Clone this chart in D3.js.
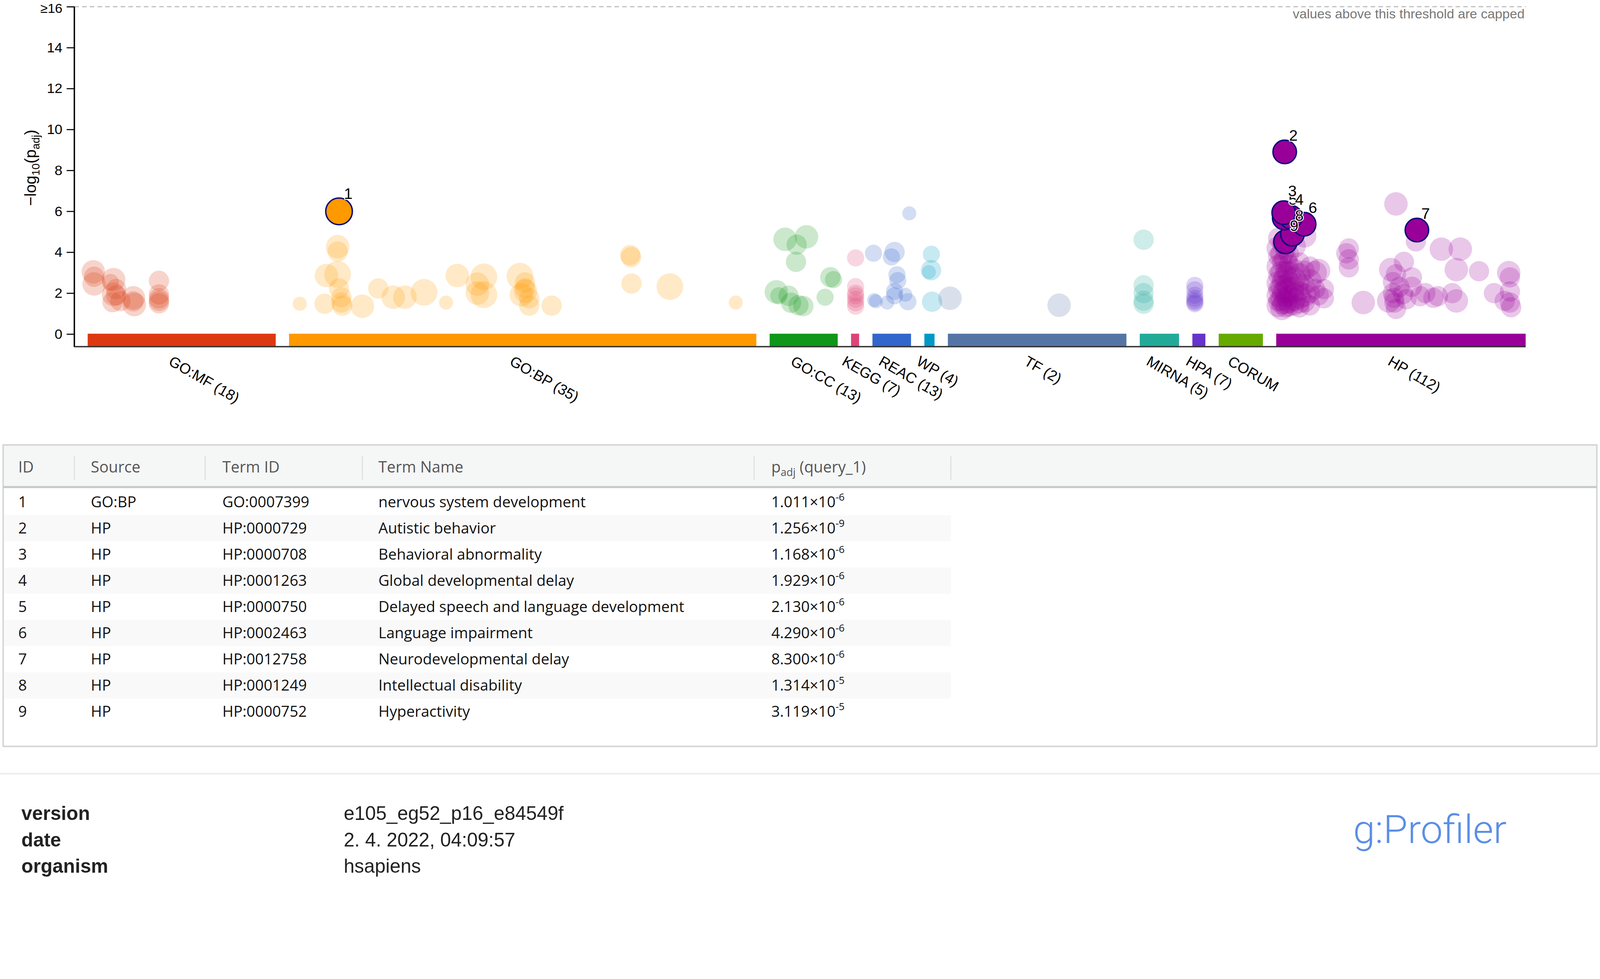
<!DOCTYPE html>
<html>
<head>
<meta charset="utf-8">
<script src="https://cdn.jsdelivr.net/npm/d3@7"></script>
<style>
html, body { margin: 0; padding: 0; background: #fff; width: 100%; height: 100%; overflow: hidden; }
svg { display: block; width: 100vw; height: 100vh; }
</style>
</head>
<body>
<svg id="chart" viewBox="0 0 4562 2505" preserveAspectRatio="xMinYMin meet"></svg>
<script>
var sources = ["GO:MF", "GO:BP", "GO:CC", "KEGG", "REAC", "WP", "TF", "MIRNA", "HPA", "CORUM", "HP"];
var sourceCounts = [18, 35, 13, 7, 13, 4, 2, 5, 7, null, 112];
// relative width of each source on the x axis (size of its term database)
var sourceSpans = [536, 1332, 194, 23, 110, 29, 509, 112, 37, 126, 711];
var sourceColors = ["#dc3912", "#ff9900", "#109618", "#dd4477", "#3366cc", "#0099c6",
	"#5574a6", "#22aa99", "#6633cc", "#66aa00", "#990099"];

var yTicks = [0, 2, 4, 6, 8, 10, 12, 14, 16];

// [position inside the source (0-100), -log10(p_adj), term size class 1-5]
var goMF = [
	[3.0, 3.04, 4], [3.4, 2.45, 4], [3.4, 2.8, 3], [12.1, 2.52, 2], [13.8, 2.66, 4], [13.8, 1.94, 4],
	[15.1, 1.89, 3], [15.1, 2.2, 3], [17.4, 1.61, 3], [13.2, 1.56, 3], [24.3, 1.77, 4], [24.8, 1.44, 4],
	[24.3, 1.6, 3], [37.9, 2.6, 3], [37.9, 1.94, 3], [37.9, 1.5, 3], [37.9, 1.62, 3], [37.9, 1.75, 3]
];
var goBP = [
	[10.4, 4.27, 4], [10.4, 4.03, 3], [8.0, 2.86, 4], [10.4, 2.92, 5], [10.7, 2.23, 3], [2.3, 1.48, 1],
	[7.6, 1.48, 3], [11.2, 1.8, 3], [11.2, 1.54, 3], [11.4, 1.39, 3], [15.7, 1.36, 4], [19.1, 2.23, 3],
	[22.3, 1.8, 4], [24.8, 1.8, 4], [28.9, 2.04, 5], [33.6, 1.54, 1], [36.0, 2.86, 4], [40.3, 2.44, 4],
	[41.7, 2.8, 5], [41.7, 1.92, 5], [40.3, 2.0, 4], [49.4, 2.83, 5], [50.5, 2.52, 3], [50.5, 2.23, 3],
	[50.6, 2.1, 4], [49.7, 1.92, 4], [51.4, 1.75, 3], [51.4, 1.39, 3], [56.2, 1.39, 3], [73.0, 3.86, 3],
	[73.2, 3.76, 3], [73.3, 2.47, 3], [81.5, 2.32, 5], [95.6, 1.54, 1]
];
var goCC = [
	[22.7, 4.63, 4], [54.1, 4.75, 4], [39.7, 4.37, 3], [38.7, 3.53, 3], [9.8, 2.06, 4], [13.4, 1.87, 2],
	[27.8, 1.87, 3], [31.4, 1.53, 3], [42.3, 1.41, 3], [49.5, 1.37, 3], [89.2, 2.78, 3], [93.8, 2.66, 2],
	[81.4, 1.8, 2]
];
var kegg = [
	[56.5, 3.72, 2], [56.5, 2.32, 2], [56.5, 2.0, 2], [56.5, 1.87, 2], [56.5, 1.7, 2], [56.5, 1.53, 2], [56.5, 1.36, 2]
];
var reac = [
	[2.7, 3.95, 2], [57.3, 4.01, 3], [49.1, 3.77, 2], [95.5, 5.9, 1], [63.6, 2.9, 2], [65.5, 2.61, 2],
	[57.3, 2.09, 2], [57.3, 1.87, 2], [85.5, 1.92, 1], [4.5, 1.66, 1], [38.2, 1.54, 1], [91.8, 1.58, 2],
	[9.1, 1.6, 1]
];
var wp = [[69.0, 3.9, 2], [65.5, 3.12, 3], [44.8, 3.03, 1], [75.9, 1.58, 3]];
var tf = [[1.2, 1.75, 4], [62.3, 1.41, 4]];
var mirna = [[9.8, 4.61, 3], [9.8, 2.38, 3], [9.8, 2.0, 3], [9.8, 1.63, 3], [9.8, 1.48, 3]];
var hpa = [[18.9, 2.38, 2], [18.9, 2.16, 2], [18.9, 1.9, 2], [18.9, 1.75, 2], [18.9, 1.63, 2], [18.9, 1.55, 2], [18.9, 1.48, 2]];
var corum = [];
var hp = [
	[0.8, 4.7, 3], [0.8, 4.2, 4], [0.8, 3.8, 3], [0.8, 3.3, 4], [0.8, 2.9, 3], [0.8, 2.5, 4], [0.8, 2.2, 3],
	[0.8, 1.9, 4], [0.8, 1.6, 3], [0.8, 1.4, 4],
	[2.3, 4.4, 3], [2.3, 3.9, 4], [2.3, 3.5, 3], [2.3, 3.0, 4], [2.3, 2.6, 3], [2.3, 2.3, 4], [2.3, 2.0, 3],
	[2.3, 1.7, 4], [2.3, 1.45, 3], [2.3, 1.25, 4],
	[3.7, 4.1, 3], [3.7, 3.6, 4], [3.7, 3.1, 3], [3.7, 2.8, 4], [3.7, 2.4, 3], [3.7, 2.1, 4], [3.7, 1.8, 3],
	[3.7, 1.55, 4], [3.7, 1.3, 3],
	[5.1, 3.9, 3], [5.1, 3.4, 3], [5.1, 3.0, 4], [5.1, 2.6, 3], [5.1, 2.2, 4], [5.1, 1.9, 3], [5.1, 1.6, 4], [5.1, 1.35, 3],
	[7.2, 4.3, 4], [7.2, 3.2, 3], [7.2, 2.7, 4], [7.2, 2.3, 3], [7.2, 2.0, 3], [7.2, 1.7, 4], [7.2, 1.4, 3],
	[9.3, 3.5, 3], [9.3, 2.9, 4], [9.3, 2.5, 3], [9.3, 2.1, 3], [9.3, 1.8, 4], [9.3, 1.5, 3], [9.3, 1.3, 3],
	[11.4, 4.8, 4], [11.4, 3.1, 3], [11.4, 2.4, 3], [11.4, 1.9, 4], [11.4, 1.55, 3],
	[13.5, 3.3, 3], [13.5, 2.6, 4], [13.5, 2.0, 3], [13.5, 1.4, 3],
	[15.6, 3.0, 4], [15.6, 2.2, 3], [17.0, 3.1, 4], [17.0, 1.9, 3], [19.1, 2.2, 3], [19.1, 1.75, 3],
	[29.1, 4.18, 3], [28.1, 3.95, 3], [29.1, 3.65, 3], [29.1, 3.26, 3], [34.9, 1.54, 4], [48.0, 6.36, 4],
	[51.2, 3.53, 3], [56.0, 4.53, 3], [48.0, 2.92, 3], [45.9, 3.15, 4], [46.8, 2.54, 3], [46.8, 2.0, 3],
	[47.3, 1.77, 3], [47.4, 1.54, 3], [48.0, 1.23, 3], [45.1, 1.62, 4], [54.4, 2.77, 3], [54.4, 2.31, 3],
	[57.7, 1.85, 3], [59.8, 2.0, 3], [63.0, 1.77, 3], [66.2, 4.15, 4], [73.8, 4.15, 4], [72.2, 3.15, 4],
	[72.2, 1.62, 4], [70.6, 2.0, 3], [81.3, 3.07, 3], [87.3, 2.0, 3], [93.2, 3.0, 4], [93.7, 2.77, 3],
	[93.7, 2.08, 3], [93.7, 1.54, 3], [91.6, 1.62, 3], [94.2, 1.31, 3], [49.4, 2.3, 3], [50.8, 1.95, 3],
	[52.2, 1.7, 3], [64.8, 1.85, 3]
];
var sourcePoints = [goMF, goBP, goCC, kegg, reac, wp, tf, mirna, hpa, corum, hp];

// highlighted terms, listed in the table
var highlights = [
	{id: 1, source: "GO:BP", termId: "GO:0007399", name: "nervous system development", padj: 1.011e-6, pos: 10.7, size: 5},
	{id: 2, source: "HP", termId: "HP:0000729", name: "Autistic behavior", padj: 1.256e-9, pos: 3.4, size: 4},
	{id: 3, source: "HP", termId: "HP:0000708", name: "Behavioral abnormality", padj: 1.168e-6, pos: 3.0, size: 4},
	{id: 4, source: "HP", termId: "HP:0001263", name: "Global developmental delay", padj: 1.929e-6, pos: 5.8, size: 4},
	{id: 5, source: "HP", termId: "HP:0000750", name: "Delayed speech and language development", padj: 2.130e-6, pos: 3.2, size: 4},
	{id: 6, source: "HP", termId: "HP:0002463", name: "Language impairment", padj: 4.290e-6, pos: 11.2, size: 4},
	{id: 7, source: "HP", termId: "HP:0012758", name: "Neurodevelopmental delay", padj: 8.300e-6, pos: 56.4, size: 4},
	{id: 8, source: "HP", termId: "HP:0001249", name: "Intellectual disability", padj: 1.314e-5, pos: 6.5, size: 4},
	{id: 9, source: "HP", termId: "HP:0000752", name: "Hyperactivity", padj: 3.119e-5, pos: 3.7, size: 4}
];

var tableColumns = ["ID", "Source", "Term ID", "Term Name", "p_adj (query_1)"];
var footerKeys = ["version", "date", "organism"];
var footerValues = ["e105_eg52_p16_e84549f", "2. 4. 2022, 04:09:57", "hsapiens"];

var svg = d3.select("#chart");
var chartFont = "'Liberation Sans', Arial, sans-serif";
var tableFont = "'Open Sans', 'Noto Sans', sans-serif";

// x layout: each source gets its span, separated by a fixed gap
var gap = 38;
var offsets = [];
var acc = gap;
sourceSpans.forEach(function(s) {
	offsets.push(acc);
	acc += s + gap;
});
var total = acc - gap;

var x = d3.scaleLinear().domain([0, total]).range([212, 4350]);
var y = d3.scaleLinear().domain([0, 16]).range([952, 19]);
var r = d3.scaleLinear().domain([1, 5]).range([20, 38]);

var sourcePos = function(si, pos) {
	return x(offsets[si] + pos / 100 * sourceSpans[si]);
};

var plot = svg.append("g").attr("font-family", chartFont);

// threshold line
plot.append("line")
	.attr("x1", x(0)).attr("x2", x(total))
	.attr("y1", y(16)).attr("y2", y(16))
	.attr("stroke", "#bbb").attr("stroke-width", 3)
	.attr("stroke-dasharray", "13,9");
plot.append("text")
	.attr("x", x(total) - 3).attr("y", 52)
	.attr("text-anchor", "end")
	.attr("font-size", 38)
	.attr("fill", "#777")
	.text("values above this threshold are capped");

// y axis
var yAxis = d3.axisLeft(y)
	.tickValues(yTicks)
	.tickSize(22)
	.tickPadding(12)
	.tickFormat(function(d) { return d === 16 ? "≥16" : d; });
var yg = plot.append("g").attr("transform", "translate(" + x(0) + ",0)").call(yAxis);
yg.select(".domain").remove();
yg.selectAll(".tick line").attr("stroke", "#000").attr("stroke-width", 3);
yg.selectAll(".tick text").attr("font-size", 40).attr("font-family", chartFont).attr("fill", "#000");
// keep the capped top label inside the page
yg.selectAll(".tick text").filter(function(d) { return d === 16; })
	.attr("font-size", 38)
	.attr("dy", "0.45em");
plot.append("line")
	.attr("x1", x(0)).attr("x2", x(0))
	.attr("y1", y(16)).attr("y2", 989)
	.attr("stroke", "#000").attr("stroke-width", 4);

var ylab = plot.append("text")
	.attr("transform", "translate(102,478) rotate(-90)")
	.attr("text-anchor", "middle")
	.attr("font-size", 45)
	.attr("fill", "#000");
ylab.append("tspan").text("−log");
ylab.append("tspan").attr("font-size", 31).attr("dy", 10).text("10");
ylab.append("tspan").attr("dy", -10).text("(p");
ylab.append("tspan").attr("font-size", 31).attr("dy", 10).text("adj");
ylab.append("tspan").attr("dy", -10).text(")");

// source bars
plot.selectAll("rect.source")
	.data(sources)
	.enter().append("rect")
	.attr("class", "source")
	.attr("x", function(d, i) { return x(offsets[i]); })
	.attr("width", function(d, i) { return x(offsets[i] + sourceSpans[i]) - x(offsets[i]); })
	.attr("y", 951)
	.attr("height", 36)
	.attr("fill", function(d, i) { return sourceColors[i]; });

plot.append("line")
	.attr("x1", x(0)).attr("x2", x(total))
	.attr("y1", 988).attr("y2", 988)
	.attr("stroke", "#333").attr("stroke-width", 4);

plot.selectAll("text.source-label")
	.data(sources)
	.enter().append("text")
	.attr("class", "source-label")
	.attr("transform", function(d, i) {
		var cx = x(offsets[i] + sourceSpans[i] / 2) - 40;
		return "translate(" + cx + ",1038) rotate(30)";
	})
	.attr("font-size", 42)
	.attr("fill", "#000")
	.text(function(d, i) {
		return sourceCounts[i] === null ? d : d + " (" + sourceCounts[i] + ")";
	});

// faded circles
var points = [];
sourcePoints.forEach(function(list, si) {
	list.forEach(function(p) {
		points.push({si: si, pos: p[0], value: p[1], size: p[2]});
	});
});

plot.append("g").selectAll("circle")
	.data(points)
	.enter().append("circle")
	.attr("cx", function(d) { return sourcePos(d.si, d.pos); })
	.attr("cy", function(d) { return y(d.value); })
	.attr("r", function(d) { return r(d.size); })
	.attr("fill", function(d) { return sourceColors[d.si]; })
	.attr("fill-opacity", 0.22);

// highlighted circles
highlights.forEach(function(h) {
	h.si = sources.indexOf(h.source);
	h.value = -Math.log10(h.padj);
	h.cx = sourcePos(h.si, h.pos);
	h.cy = y(Math.min(h.value, 16));
	h.r = r(h.size);
});

// labels that would collide get pushed apart
var labelNudge = {3: [0, -15], 5: [0, -6], 4: [0, -4], 8: [-5, -7]};

var hl = plot.append("g");
hl.selectAll("circle")
	.data(highlights.slice().reverse())
	.enter().append("circle")
	.attr("cx", function(d) { return d.cx; })
	.attr("cy", function(d) { return d.cy; })
	.attr("r", function(d) { return d.r; })
	.attr("fill", function(d) { return sourceColors[d.si]; })
	.attr("stroke", "#0b0b7a")
	.attr("stroke-width", 4);

hl.selectAll("text")
	.data(highlights.slice().reverse())
	.enter().append("text")
	.attr("x", function(d) { return d.cx + d.r * 0.37 + (labelNudge[d.id] ? labelNudge[d.id][0] : 0); })
	.attr("y", function(d) { return d.cy - d.r + 2 + (labelNudge[d.id] ? labelNudge[d.id][1] : 0); })
	.attr("font-size", 44)
	.attr("fill", "#000")
	.attr("stroke", "#fff")
	.attr("stroke-width", 5)
	.attr("paint-order", "stroke")
	.text(function(d) { return d.id; });

// table
var table = svg.append("g").attr("font-family", tableFont);
var colX = [52, 259, 634, 1079, 2199];
var sepX = [212, 585, 1033, 2150, 2711];
var rowY0 = 1431, rowH = 74.6;

table.append("rect")
	.attr("x", 9).attr("y", 1270).attr("width", 4544).attr("height", 118)
	.attr("fill", "#f5f6f6");

table.selectAll("rect.stripe")
	.data(highlights.filter(function(d, i) { return i % 2 === 1; }))
	.enter().append("rect")
	.attr("class", "stripe")
	.attr("x", 12)
	.attr("y", function(d) { return rowY0 + (d.id - 1) * rowH - rowH / 2; })
	.attr("width", 2699)
	.attr("height", rowH)
	.attr("fill", "#f9f9f9");

table.append("rect")
	.attr("x", 9).attr("y", 1268).attr("width", 4544).attr("height", 859)
	.attr("fill", "none").attr("stroke", "#d3d3d3").attr("stroke-width", 4);
table.append("line")
	.attr("x1", 9).attr("x2", 4553).attr("y1", 1388).attr("y2", 1388)
	.attr("stroke", "#c9c9c9").attr("stroke-width", 6);

table.selectAll("line.sep")
	.data(sepX)
	.enter().append("line")
	.attr("class", "sep")
	.attr("x1", function(d) { return d; }).attr("x2", function(d) { return d; })
	.attr("y1", 1300).attr("y2", 1367)
	.attr("stroke", "#dedede").attr("stroke-width", 3);

tableColumns.forEach(function(c, i) {
	var t = table.append("text")
		.attr("x", colX[i]).attr("y", 1347)
		.attr("font-size", 44)
		.attr("fill", "#555");
	if (c.indexOf("p_adj") === 0) {
		t.append("tspan").text("p");
		t.append("tspan").attr("font-size", 30).attr("dy", 10).text("adj");
		t.append("tspan").attr("dy", -10).text(c.replace("p_adj", ""));
	} else {
		t.text(c);
	}
});

var rows = table.selectAll("g.row")
	.data(highlights)
	.enter().append("g")
	.attr("class", "row")
	.attr("transform", function(d, i) { return "translate(0," + (rowY0 + i * rowH + 15) + ")"; })
	.attr("font-size", 43)
	.attr("fill", "#111");

rows.append("text").attr("x", colX[0]).text(function(d) { return d.id; });
rows.append("text").attr("x", colX[1]).text(function(d) { return d.source; });
rows.append("text").attr("x", colX[2]).text(function(d) { return d.termId; });
rows.append("text").attr("x", colX[3]).text(function(d) { return d.name; });
rows.append("text").attr("x", colX[4]).each(function(d) {
	var parts = d.padj.toExponential(3).split("e");
	var t = d3.select(this);
	t.append("tspan").text(parts[0] + "×10");
	t.append("tspan").attr("font-size", 29).attr("dy", -19).text(parts[1]);
});

// footer
var footer = svg.append("g").attr("font-family", chartFont);
footer.append("line")
	.attr("x1", 0).attr("x2", 4562).attr("y1", 2205).attr("y2", 2205)
	.attr("stroke", "#eeeeee").attr("stroke-width", 5);

footerKeys.forEach(function(k, i) {
	footer.append("text")
		.attr("x", 61).attr("y", 2337 + i * 75)
		.attr("font-size", 55).attr("font-weight", "bold").attr("fill", "#222")
		.text(k);
	footer.append("text")
		.attr("x", 980).attr("y", 2337 + i * 75)
		.attr("font-size", 55).attr("fill", "#222")
		.text(footerValues[i]);
});

footer.append("text")
	.attr("x", 3858).attr("y", 2402)
	.attr("font-family", "Roboto, sans-serif")
	.attr("font-weight", 300)
	.attr("font-size", 112)
	.attr("textLength", 438)
	.attr("lengthAdjust", "spacingAndGlyphs")
	.attr("fill", "#5a8ee6")
	.text("g:Profiler");
</script>
</body>
</html>
